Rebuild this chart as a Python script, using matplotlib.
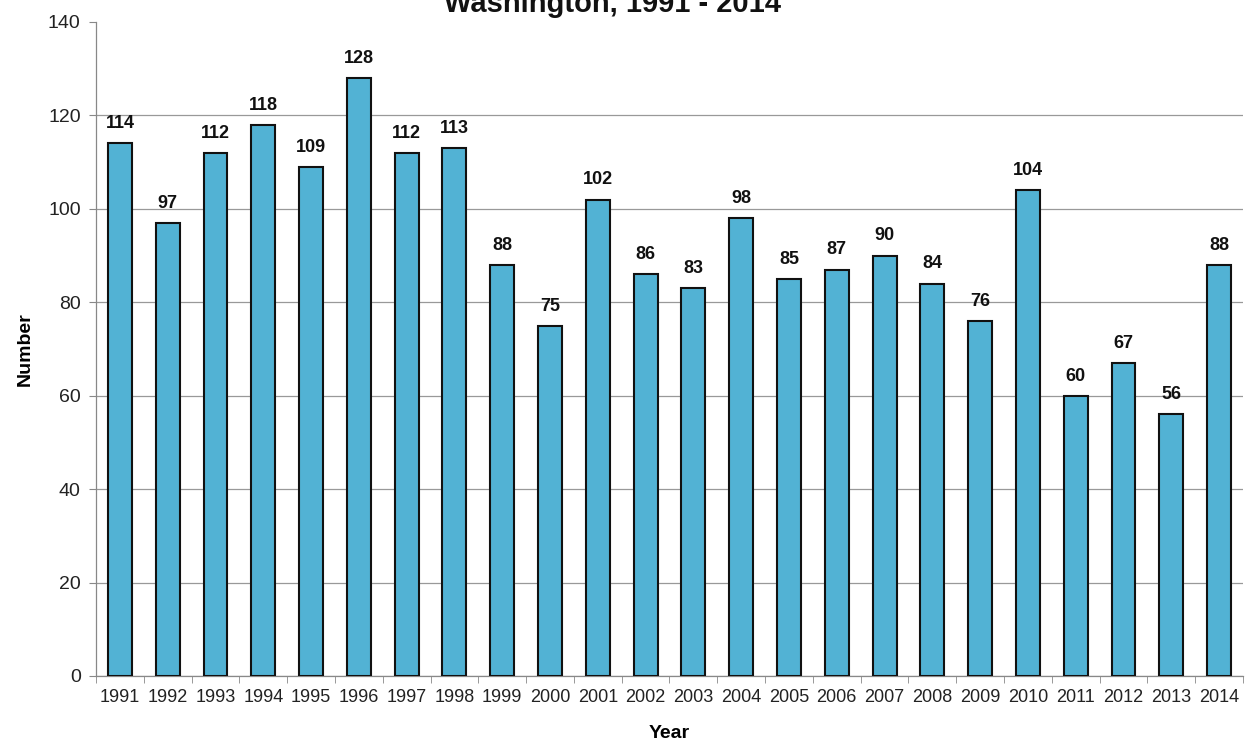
import matplotlib
matplotlib.use("Agg")
import matplotlib.pyplot as plt
import numpy as np

years = ["1991", "1992", "1993", "1994", "1995", "1996", "1997", "1998", "1999", "2000",
         "2001", "2002", "2003", "2004", "2005", "2006", "2007", "2008", "2009", "2010",
         "2011", "2012", "2013", "2014"]
values = [114, 97, 112, 118, 109, 128, 112, 113, 88, 75,
          102, 86, 83, 98, 85, 87, 90, 84, 76, 104,
          60, 67, 56, 88]
title = "Washington, 1991 - 2014"

plt.rcParams['font.family'] = ['Liberation Sans', 'DejaVu Sans']

fig = plt.figure(figsize=(12.48, 7.47), dpi=100)
fig.patch.set_facecolor('white')
ax = fig.add_axes([96/1248, 1-676/747, (1243-96)/1248, (676-22)/747])

x = np.arange(len(years))
ax.bar(x, values, width=0.5, color='#52B2D4', edgecolor='#111111', linewidth=1.5, zorder=3)

for xi, v in zip(x, values):
    ax.annotate(str(v), (xi, v), xytext=(0, 8), textcoords='offset points',
                ha='center', va='bottom', fontsize=13, fontweight='bold', color='#111111')

ax.set_xlim(-0.5, len(years) - 0.5)
ax.set_ylim(0, 140)
ax.set_yticks(np.arange(0, 141, 20))
ax.tick_params(axis='y', labelsize=14, length=5, color='#888888', pad=6, labelcolor='#222222')
ax.yaxis.grid(True, color='#999999', linewidth=0.9, zorder=0)
ax.set_xticks(x)
ax.set_xticklabels(years)
ax.tick_params(axis='x', which='major', length=0, labelsize=13, pad=9, labelcolor='#222222')
ax.set_xticks(np.arange(-0.5, len(years), 1), minor=True)
ax.tick_params(axis='x', which='minor', length=5, color='#888888')
fig.canvas.draw()
ax.yaxis.get_gridlines()[-1].set_visible(False)

for s in ['top', 'right']:
    ax.spines[s].set_visible(False)
for s in ['left', 'bottom']:
    ax.spines[s].set_color('#888888')
    ax.spines[s].set_linewidth(0.9)

ax.set_ylabel("Number", fontsize=14, fontweight='bold', labelpad=10)
ax.set_xlabel("Year", fontsize=14, fontweight='bold', labelpad=14)

fig.text(612/1248, 1 - 12/747, title, ha='center', va='baseline',
         fontsize=21, fontweight='bold', color='#111111')

fig.savefig("out.png", dpi=100, facecolor='white')
